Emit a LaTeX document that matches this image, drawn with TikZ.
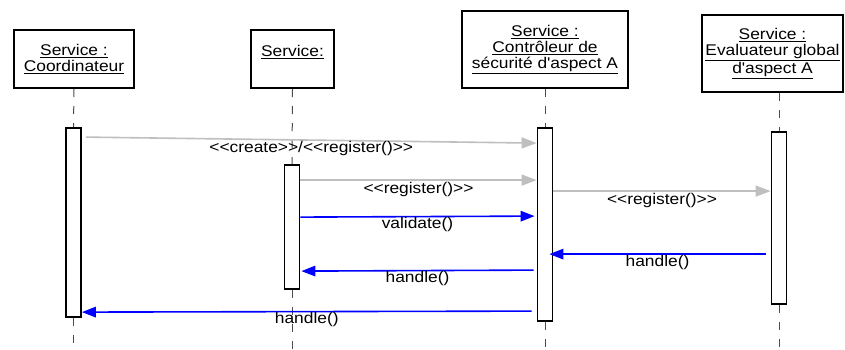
\documentclass[tikz,border=0pt]{standalone}
\usepackage{fontspec}
\setmainfont{Liberation Sans}[Ligatures=TeXOff,FakeStretch=1.12]
\usepackage{tikz}
\usetikzlibrary{arrows.meta,calc}

\tikzset{
    objbox/.style={draw=black, line width=2pt, fill=white, align=center, inner sep=0pt, font=\fontsize{15.5}{16}\selectfont},
    actbar/.style={draw=black, line width=1.8pt, fill=white, minimum width=15pt, inner sep=0pt},
    lifeline/.style={draw=black!70, line width=1pt, dash pattern=on 8pt off 9pt},
    callmsg/.style={draw=black!25, line width=1.6pt, -{Triangle[length=15pt,width=11pt]}},
    retmsg/.style={draw=blue, line width=1.6pt, -{Triangle[length=14pt,width=10.5pt]}},
    msglabel/.style={anchor=north, inner sep=0pt, font=\fontsize{15.5}{16}\selectfont}
}

\begin{document}
\begin{tikzpicture}[x=1pt,y=-1pt]
    \useasboundingbox (0,0) rectangle (845,349);
    % objets
    \node[objbox, minimum width=120pt, minimum height=58pt] (coord) at (74,59) {\underline{Service :}\\\underline{Coordinateur}};
    \node[objbox, minimum width=83pt, minimum height=58pt] (svc) at (292.5,59) {\underline{Service:}\\\mbox{}};
    \node[objbox, minimum width=166pt, minimum height=77pt] (ctrl) at (545,49.5) {\underline{Service :}\\\underline{Contrôleur de}\\\underline{sécurité d'aspect A}};
    \node[objbox, minimum width=141pt, minimum height=77pt] (eval) at (772.5,53.5) {\underline{Service :}\\\underline{Evaluateur global}\\\underline{d'aspect A}};
    % barres d'activation
    \node[actbar, minimum height=189pt] (bar1) at (73.5,222.5) {};
    \node[actbar, minimum height=124pt] (bar2) at (292,227) {};
    \node[actbar, minimum height=193pt] (bar3) at (545,224.5) {};
    \node[actbar, minimum height=172pt] (bar4) at (779,218) {};
    \coordinate (foot1) at (73.5,349);
    \coordinate (foot2) at (292,349);
    \coordinate (foot3) at (545,349);
    \coordinate (foot4) at (779,349);
    % lignes de vie
    \draw[lifeline] (coord.south) -- (bar1.north);
    \draw[lifeline] (svc.south) -- (bar2.north);
    \draw[lifeline] (ctrl.south) -- (bar3.north);
    \draw[lifeline] (bar4.north |- eval.south) -- (bar4.north);
    \draw[lifeline] (bar1.south) -- (foot1);
    \draw[lifeline] (bar2.south) -- (foot2);
    \draw[lifeline] (bar3.south) -- (foot3);
    \draw[lifeline] (bar4.south) -- (foot4);
    % messages
    \draw[callmsg] ($(bar1.north east)+(4,10)$) -- node[msglabel] {<<create>>/<<register()>>} ($(bar3.north west)+(0,16)$);
    \draw[callmsg] ($(bar2.north east)+(0,16)$) -- node[msglabel, yshift=-1pt] {<<register()>>} ($(bar3.north west)+(0,53)$);
    \draw[callmsg] ($(bar3.north east)+(0,64)$) -- node[msglabel, yshift=-1pt] {<<register()>>} ($(bar4.north west)+(0,60)$);
    \draw[retmsg] ($(bar2.north east)+(0,53)$) -- node[msglabel] {validate()} ($(bar3.north west)+(-2,89)$);
    \draw[retmsg] ($(bar4.north west)+(-5,123)$) -- node[msglabel] {handle()} ($(bar3.north east)+(-4,127)$);
    \draw[retmsg] ($(bar3.north west)+(-3,143)$) -- node[msglabel] {handle()} ($(bar2.north east)+(1,107)$);
    \draw[retmsg] ($(bar3.north west)+(-5,184)$) -- node[msglabel] {handle()} ($(bar1.north east)+(0,185)$);
\end{tikzpicture}
\end{document}
